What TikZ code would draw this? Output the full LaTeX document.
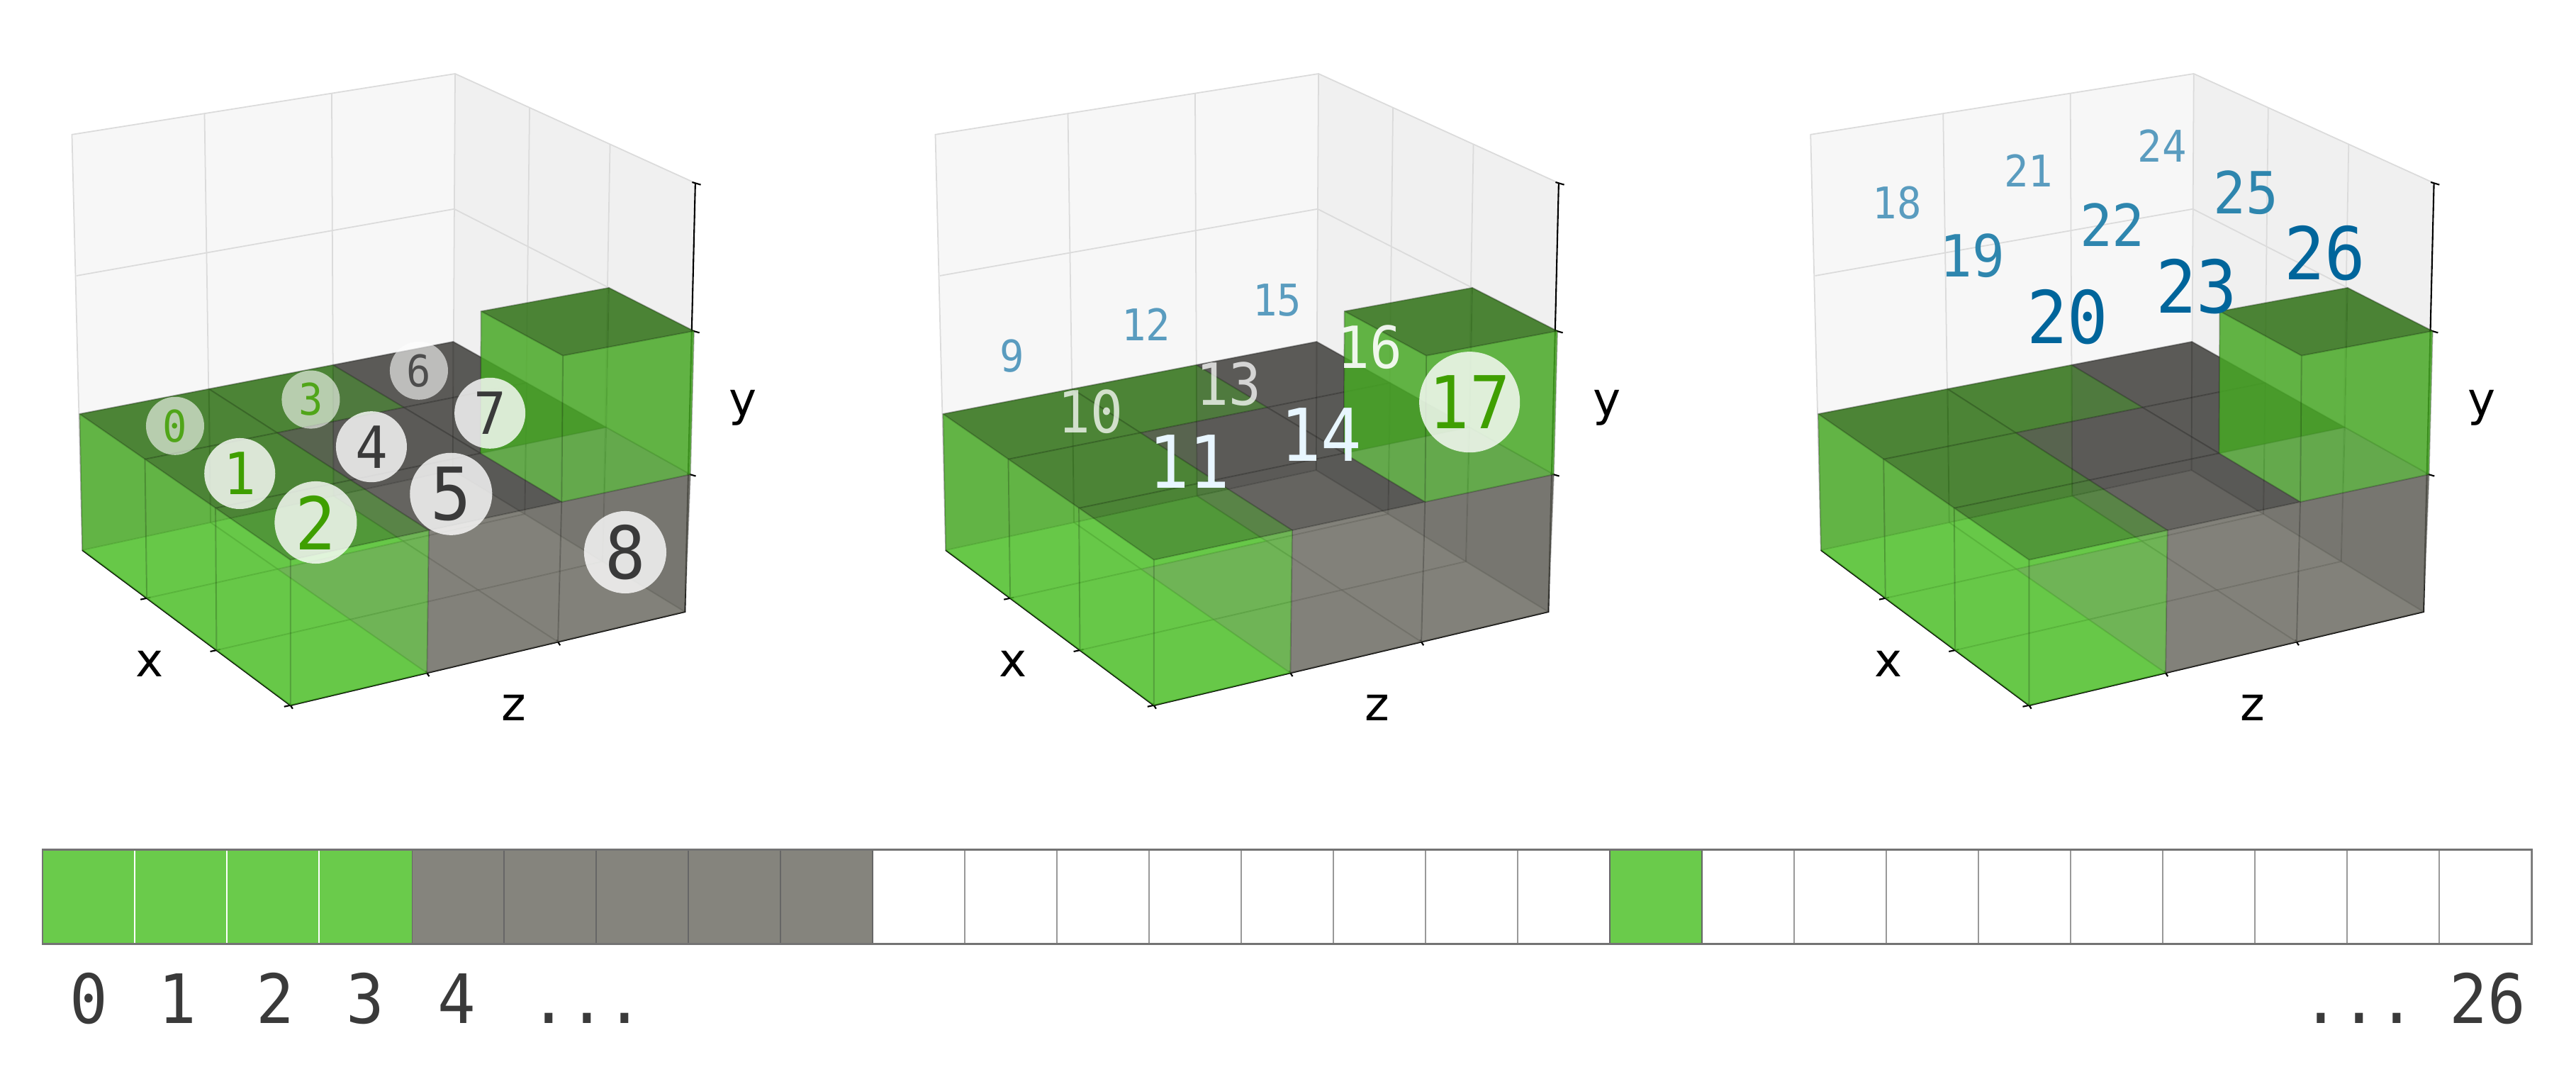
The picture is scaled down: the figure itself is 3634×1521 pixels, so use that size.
\documentclass[tikz,border=0pt]{standalone}
\usepackage{fontspec}
\setmainfont{DejaVu Sans}
\setmonofont[FakeStretch=.93]{DejaVu Sans Mono}
\usetikzlibrary{calc}
\definecolor{greenBot}{RGB}{80,195,43}
\definecolor{greenBack}{RGB}{46,100,17}
\definecolor{greenTop}{RGB}{43,115,18}
\definecolor{grayBot}{RGB}{112,111,102}
\definecolor{grayBack}{RGB}{57,57,52}
\definecolor{grayTop}{RGB}{63,62,59}
\definecolor{colorBarG}{RGB}{106,203,75}
\definecolor{colorBarK}{RGB}{133,132,125}
\definecolor{colorInk}{RGB}{58,58,58}
\definecolor{colorLeaf}{RGB}{63,159,0}
\definecolor{colorFar}{RGB}{90,156,191}
\definecolor{colorMid}{RGB}{46,134,174}
\definecolor{colorNear}{RGB}{0,101,155}
\definecolor{colorIce}{RGB}{232,246,255}
\tikzset{
   panel/.style={shift={(#1,80)},x=.006378cm,y=-.005995cm},
   vface/.style={draw=black,draw opacity=.13,fill opacity=.6,line width=.55pt,line join=round},
   gridl/.style={draw=black!14,line width=.5pt},
   axisl/.style={draw=black,line width=.6pt},
   numS/.style={inner sep=0,font=\ttfamily\fontsize{17.5}{18}\selectfont},
   numM/.style={inner sep=0,font=\ttfamily\fontsize{23.3}{24}\selectfont},
   numL/.style={inner sep=0,font=\ttfamily\fontsize{29.2}{30}\selectfont},
   discS/.style={numS,circle,fill=white,fill opacity=.6,text opacity=.85,minimum size=.82cm},
   discM/.style={numM,circle,fill=white,fill opacity=.8,text opacity=1,minimum size=1cm},
   discL/.style={numL,circle,fill=white,fill opacity=.8,text opacity=1,minimum size=1.16cm},
   axlab/.style={inner sep=0,font=\fontsize{18.8}{19}\selectfont},
   cell/.style={draw=black!40,line width=.55pt,minimum width=1.3cm,minimum height=1.31cm,inner sep=0},
   barnum/.style={anchor=base,inner sep=0,text=colorInk,font=\ttfamily\fontsize{27.3}{28}\selectfont},
}
\newcommand{\dface}[5]{\filldraw[vface,fill=#1] (#2) -- (#3) -- (#4) -- (#5) -- cycle}
\newcommand{\vfbot}{\dface{\vc Bot}{p\vi\vj\vk}{p\ia\vj\vk}{p\ia\ja\vk}{p\vi\ja\vk}}
\newcommand{\vftop}{\dface{\vc Top}{p\vi\vj\ka}{p\ia\vj\ka}{p\ia\ja\ka}{p\vi\ja\ka}}
\newcommand{\vfbi}{\dface{\vc Back}{p\vi\vj\vk}{p\vi\ja\vk}{p\vi\ja\ka}{p\vi\vj\ka}}
\newcommand{\vffi}{\dface{\vc Bot}{p\ia\vj\vk}{p\ia\ja\vk}{p\ia\ja\ka}{p\ia\vj\ka}}
\newcommand{\vfbj}{\dface{\vc Back}{p\vi\ja\vk}{p\ia\ja\vk}{p\ia\ja\ka}{p\vi\ja\ka}}
\newcommand{\vffj}{\dface{\vc Bot}{p\vi\vj\vk}{p\ia\vj\vk}{p\ia\vj\ka}{p\vi\vj\ka}}
\newcommand{\dvox}[5]{%
  \def\vi{#1}\def\vj{#2}\def\vk{#3}\def\vc{#4}%
  \pgfmathtruncatemacro{\ia}{#1+1}\pgfmathtruncatemacro{\ja}{#2+1}\pgfmathtruncatemacro{\ka}{#3+1}%
  \foreach \f in {#5} {\csname vf\f\endcsname;}%
}
\newcommand{\dpanel}[1]{%
  \coordinate (aL0) at (88,1160); \coordinate (aB0) at (907,972);
  \coordinate (aR0) at (1420,1305); \coordinate (aF0) at (548,1525);
  \coordinate (aL1) at (82,840); \coordinate (aB1) at (908,670);
  \coordinate (aR1) at (1432,982); \coordinate (aF1) at (548,1183);
  \coordinate (aL2) at (75,515); \coordinate (aB2) at (910,358);
  \coordinate (aR2) at (1440,645); \coordinate (aF2) at (540,825);
  \coordinate (aL3) at (65,183); \coordinate (aB3) at (912,40);
  \coordinate (aR3) at (1443,297); \coordinate (aF3) at (530,480);
  \foreach \k in {0,1,2,3} {
    \foreach \i/\fx in {0/0,1/.31,2/.645,3/1} {
      \coordinate (eL) at ($(aL\k)!\fx!(aF\k)$);
      \coordinate (eR) at ($(aB\k)!\fx!(aR\k)$);
      \foreach \j/\fz in {0/0,1/.346,2/.678,3/1}
        \coordinate (p\i\j\k) at ($(eL)!\fz!(eR)$);
    }
  }
  % walls and grid
  \fill[black!10] (p000) -- (p300) -- (p330) -- (p030) -- cycle;
  \fill[black!3] (p000) -- (p030) -- (p033) -- (p003) -- cycle;
  \fill[black!6] (p030) -- (p330) -- (p333) -- (p033) -- cycle;
  \foreach \n in {1,2} {
    \draw[gridl] (p0\n0) -- (p0\n3);
    \draw[gridl] (p\n30) -- (p\n33);
    \draw[gridl] (p\n00) -- (p\n30);
    \draw[gridl] (p0\n0) -- (p3\n0);
    \draw[gridl] (p00\n) -- (p03\n) -- (p33\n);
  }
  \draw[gridl] (p000) -- (p003) -- (p033) -- (p333);
  \draw[gridl] (p030) -- (p033);
  \draw[axisl] (p000) -- (p300) -- (p330) -- (p333);
  \foreach \n in {100,200,300}
    \draw[axisl] ($(p\n)+(-14,3)$) -- ($(p\n)+(8,-2)$);
  \foreach \n in {310,320,300}
    \draw[axisl] ($(p\n)+(-3,-5)$) -- ($(p\n)+(5,8)$);
  \foreach \n in {331,332,333}
    \draw[axisl] ($(p\n)+(-7,-2)$) -- ($(p\n)+(12,4)$);
  % voxels, far ones first
  \dvox{0}{2}{0}{gray}{bot,bi,bj,top}
  \dvox{1}{2}{0}{gray}{bot,bj,top}
  \dvox{2}{2}{0}{gray}{bot,bj,fi}
  \dvox{2}{2}{1}{green}{bi,bj,top,fi,fj}
  \dvox{0}{1}{0}{green}{bot,bi,top}
  \dvox{1}{1}{0}{gray}{bot,top}
  \dvox{2}{1}{0}{gray}{bot,top,fi}
  \dvox{0}{0}{0}{green}{bot,bi,top,fj}
  \dvox{1}{0}{0}{green}{bot,top,fj}
  \dvox{2}{0}{0}{green}{bot,top,fi,fj}
  \node[axlab] (lx#1) at (237,1428) {x};
  \node[axlab] (lz#1) at (1042,1530) {z};
  \node[axlab] (ly#1) at (1549,825) {y};
}
\begin{document}
\begin{tikzpicture}[x=.01cm,y=-.01cm]
  \useasboundingbox (0,0) rectangle (3634,1521);

  \begin{scope}[panel=60]
    \dpanel{A}
    \node[discS,text=colorLeaf] (n0) at (293,868) {0};
    \node[discM,text=colorLeaf] (n1) at (436,980) {1};
    \node[discL,text=colorLeaf] (n2) at (604,1095) {2};
    \node[discS,text=colorLeaf] (n3) at (593,806) {3};
    \node[discM,text=colorInk] (n4) at (727,917) {4};
    \node[discL,text=colorInk] (n5) at (903,1028) {5};
    \node[discS,text=colorInk] (n6) at (832,738) {6};
    \node[discM,text=colorInk] (n7) at (989,838) {7};
    \node[discL,text=colorInk] (n8) at (1288,1165) {8};
  \end{scope}

  \begin{scope}[panel=1278]
    \dpanel{B}
    \node[numS,text=colorFar] (n9) at (235,703) {9};
    \node[numM,text=white,text opacity=.75] (n10) at (408,835) {10};
    \node[numL,text=colorIce] (n11) at (626,952) {11};
    \node[numS,text=colorFar] (n12) at (531,630) {12};
    \node[numM,text=white,text opacity=.75] (n13) at (713,770) {13};
    \node[numL,text=colorIce] (n14) at (918,888) {14};
    \node[numS,text=colorFar] (n15) at (821,572) {15};
    \node[numM,text=white,text opacity=.9] (n16) at (1025,682) {16};
    \node[numL,circle,fill=white,fill opacity=.8,text opacity=1,text=colorLeaf,minimum size=1.42cm] (n17) at (1246,812) {17};
  \end{scope}

  \begin{scope}[panel=2512.7]
    \dpanel{C}
    \node[numS,text=colorFar] (n18) at (256,343) {18};
    \node[numM,text=colorMid] (n19) at (423,467) {19};
    \node[numL,text=colorNear] (n20) at (633,612) {20};
    \node[numS,text=colorFar] (n21) at (547,267) {21};
    \node[numM,text=colorMid] (n22) at (732,395) {22};
    \node[numL,text=colorNear] (n23) at (918,540) {23};
    \node[numS,text=colorFar] (n24) at (842,210) {24};
    \node[numM,text=colorMid] (n25) at (1027,320) {25};
    \node[numL,text=colorNear] (n26) at (1202,462) {26};
  \end{scope}

  % the flat array
  \foreach \n in {0,...,26}
    \node[cell] (c\n) at ({126+130*\n},1265) {};
  \foreach \n in {4,...,8}
    \node[cell,draw=black!60,fill=colorBarK] (c\n) at ({126+130*\n},1265) {};
  \node[cell,draw=black!60,fill=colorBarG] (c17) at ({126+130*17},1265) {};
  \foreach \n in {0,...,3}
    \node[cell,draw=none,fill=colorBarG] (c\n) at ({126+130*\n},1265) {};
  \foreach \n in {1,2,3}
    \draw[white,line width=.5pt] (c\n.north west) -- (c\n.south west);
  \draw[black!55,line width=.7pt] (c0.north west) rectangle (c26.south east);

  \node[barnum] (b0) at (125,1443) {0};
  \node[barnum] (b1) at (250,1443) {1};
  \node[barnum] (b2) at (388,1443) {2};
  \node[barnum] (b3) at (515,1443) {3};
  \node[barnum] (b4) at (644,1443) {4};
  \node[barnum] (bdotsA) at (828,1443) {...};
  \node[barnum] (bdotsB) at (3328,1443) {...};
  \node[barnum] (b26) at (3509,1443) {26};
\end{tikzpicture}
\end{document}
